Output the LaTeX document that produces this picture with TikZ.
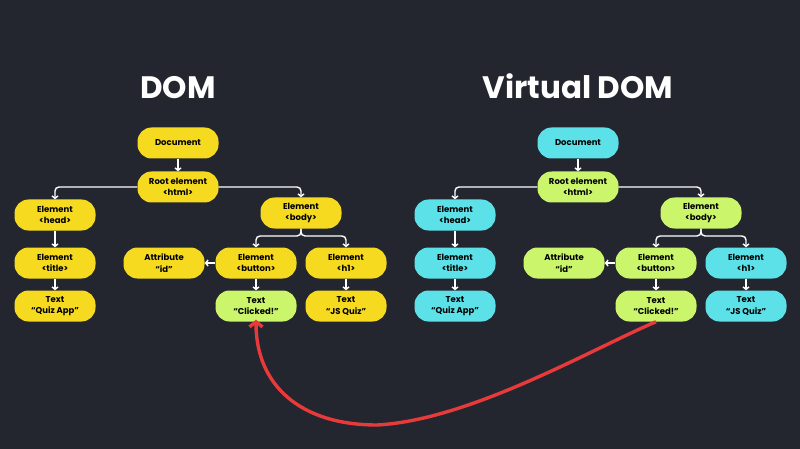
\documentclass[tikz,border=0pt]{standalone}
\usepackage{fontspec}
\setmainfont{Poppins}
\usetikzlibrary{arrows.meta}
\definecolor{bg}{HTML}{23262E}
\definecolor{dyel}{HTML}{F6DA1F}
\definecolor{vcyan}{HTML}{5DE1E8}
\definecolor{vlime}{HTML}{CBF56B}
\definecolor{rarrow}{HTML}{E83A3A}
\newcommand\domtree{%
\node[box,fill=colA] (doc) at (178,143) {Document};
\node[box,fill=colB] (root) at (178,187) {Root element\\<html>};
\node[box,fill=colA] (head) at (55,215) {Element\\<head>};
\node[box,fill=colA] (title) at (55,263) {Element\\<title>};
\node[box,fill=colA] (qa) at (55,306) {Text\\“Quiz App”};
\node[box,fill=colB] (body) at (301,213) {Element\\<body>};
\node[box,fill=colB] (attr) at (164,263) {Attribute\\“id”};
\node[box,fill=colB] (btn) at (256,263) {Element\\<button>};
\node[box,fill=colA] (h1) at (346,263) {Element\\<h1>};
\node[box,fill=vlime] (clk) at (256,306) {Text\\“Clicked!”};
\node[box,fill=colA] (js) at (346,306) {Text\\“JS Quiz”};
\coordinate (bj) at (301,236);
\draw[conn] (doc) -- (root);
\draw[conn] (root.west) -| (head.north);
\draw[conn] (root.east) -| (body.north);
\draw[conn] (head) -- (title);
\draw[conn] (title) -- (qa);
\draw[conn] (btn) -- (clk);
\draw[conn] (h1) -- (js);
\draw[conn] (body.south) -- (bj) -| (btn.north);
\draw[conn] (body.south) -- (bj) -| (h1.north);
\draw[conn] (btn) -- (attr);
}
\begin{document}
\begin{tikzpicture}[x=1pt,y=-1pt,
  box/.style={rectangle, rounded corners=14pt, minimum width=81pt, minimum height=31pt,
    inner sep=0pt, align=center, font=\fontsize{8.5}{11.5}\selectfont\bfseries, text=black},
  conn/.style={draw=white, line width=1.4pt, rounded corners=4pt,
    -{Straight Barb[length=2.5pt,width=6pt]}},
  heading/.style={anchor=base, text=white, font=\fontsize{31}{36}\selectfont\bfseries},
  redarrow/.style={draw=rarrow, line width=3.4pt, -{Straight Barb[length=5pt,width=13pt]}, shorten >=-2pt}
]
\fill[bg] (0,0) rectangle (800,449);
\useasboundingbox (0,0) rectangle (800,449);
\node[heading] (t1) at (178,99) {DOM};
\node[heading] (t2) at (578,99) {Virtual DOM};
\begin{scope}[name prefix=l-]
\colorlet{colA}{dyel}\colorlet{colB}{dyel}
\domtree
\end{scope}
\begin{scope}[xshift=400pt, name prefix=r-]
\colorlet{colA}{vcyan}\colorlet{colB}{vlime}
\domtree
\end{scope}
\coordinate (low) at (377,425);
\draw[redarrow] (r-clk.south) .. controls (590,350) and (470,420) .. (low)
  .. controls (300,425) and (256,385) .. (l-clk.south);
\end{tikzpicture}
\end{document}
